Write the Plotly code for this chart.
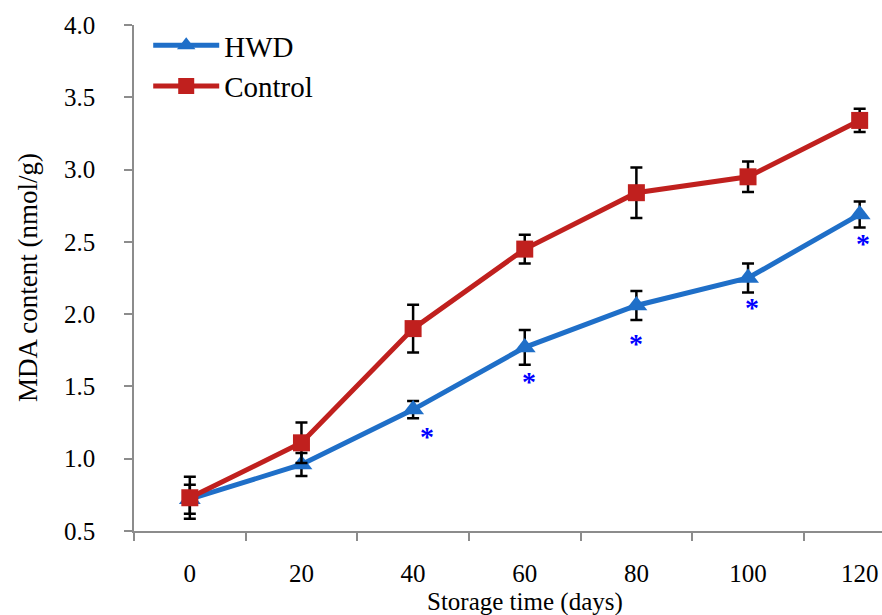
import plotly.graph_objects as go

days = ["0", "20", "40", "60", "80", "100", "120"]
hwd = [0.72, 0.96, 1.34, 1.77, 2.06, 2.25, 2.69]
hwd_err = [0.10, 0.08, 0.06, 0.12, 0.10, 0.10, 0.09]
control = [0.73, 1.11, 1.90, 2.45, 2.84, 2.95, 3.34]
control_err = [0.145, 0.14, 0.165, 0.10, 0.175, 0.105, 0.08]
sig_days = ["40", "60", "80", "100", "120"]

FONT = "Liberation Serif, Times New Roman, serif"
BLUE = "#1F6FC8"
RED = "#C0201E"

fig = go.Figure()
fig.add_trace(go.Scatter(
    x=days, y=hwd, name="HWD", mode="lines+markers",
    line=dict(color=BLUE, width=5),
    marker=dict(symbol="triangle-up", size=19, color=BLUE),
    error_y=dict(type="data", array=hwd_err, color="black", thickness=2.5, width=6),
))
fig.add_trace(go.Scatter(
    x=days, y=control, name="Control", mode="lines+markers",
    line=dict(color=RED, width=5),
    marker=dict(symbol="square", size=17, color=RED),
    error_y=dict(type="data", array=control_err, color="black", thickness=2.5, width=6),
))

star_dx = [14, 4, 0, 4, 3]
star_dy = [-27, -34, -38, -29, -29]
for d, dx, dy in zip(sig_days, star_dx, star_dy):
    i = days.index(d)
    fig.add_annotation(x=i, y=hwd[i], xref="x", yref="y", text="<b>*</b>", showarrow=False,
                       xshift=dx, yshift=dy, font=dict(family=FONT, size=28, color="#0000FF"))

fig.add_annotation(x=3, y=0, xref="x", yref="paper", text="Storage time (days)", showarrow=False,
                   yshift=-71, yanchor="middle", font=dict(family=FONT, size=25, color="black"))
fig.add_annotation(x=0, y=0.5, xref="paper", yref="paper", text="MDA content (nmol/g)", showarrow=False,
                   textangle=-90, xshift=-106, xanchor="center", yanchor="middle",
                   font=dict(family=FONT, size=27, color="black"))

fig.update_layout(
    width=882, height=615,
    margin=dict(l=134, r=0, t=25, b=84),
    paper_bgcolor="white", plot_bgcolor="white",
    font=dict(family=FONT, color="black"),
    showlegend=True,
    legend=dict(x=0.019, y=1.01, xanchor="left", yanchor="top", font=dict(family=FONT, size=29),
                bgcolor="rgba(0,0,0,0)", itemwidth=66),
    xaxis=dict(type="category", range=[-0.5, 6.2], showline=True, linecolor="#8C8C8C", linewidth=1.5,
               ticks="outside", tickson="boundaries", ticklen=8, tickcolor="#8C8C8C", tickwidth=1.5,
               showgrid=False, zeroline=False, tickfont=dict(family=FONT, size=25),
               ticklabelstandoff=19),
    yaxis=dict(range=[0.5, 4.0], dtick=0.5, tickformat=".1f", showline=True, linecolor="#8C8C8C",
               linewidth=1.5, ticks="outside", ticklen=8, tickcolor="#8C8C8C", tickwidth=1.5,
               showgrid=False, zeroline=False, tickfont=dict(family=FONT, size=25),
               ticklabelstandoff=24),
)

fig.write_html("out.html", config={"displayModeBar": False},
               post_script="document.body.style.margin='0';document.body.style.overflow='hidden';")
